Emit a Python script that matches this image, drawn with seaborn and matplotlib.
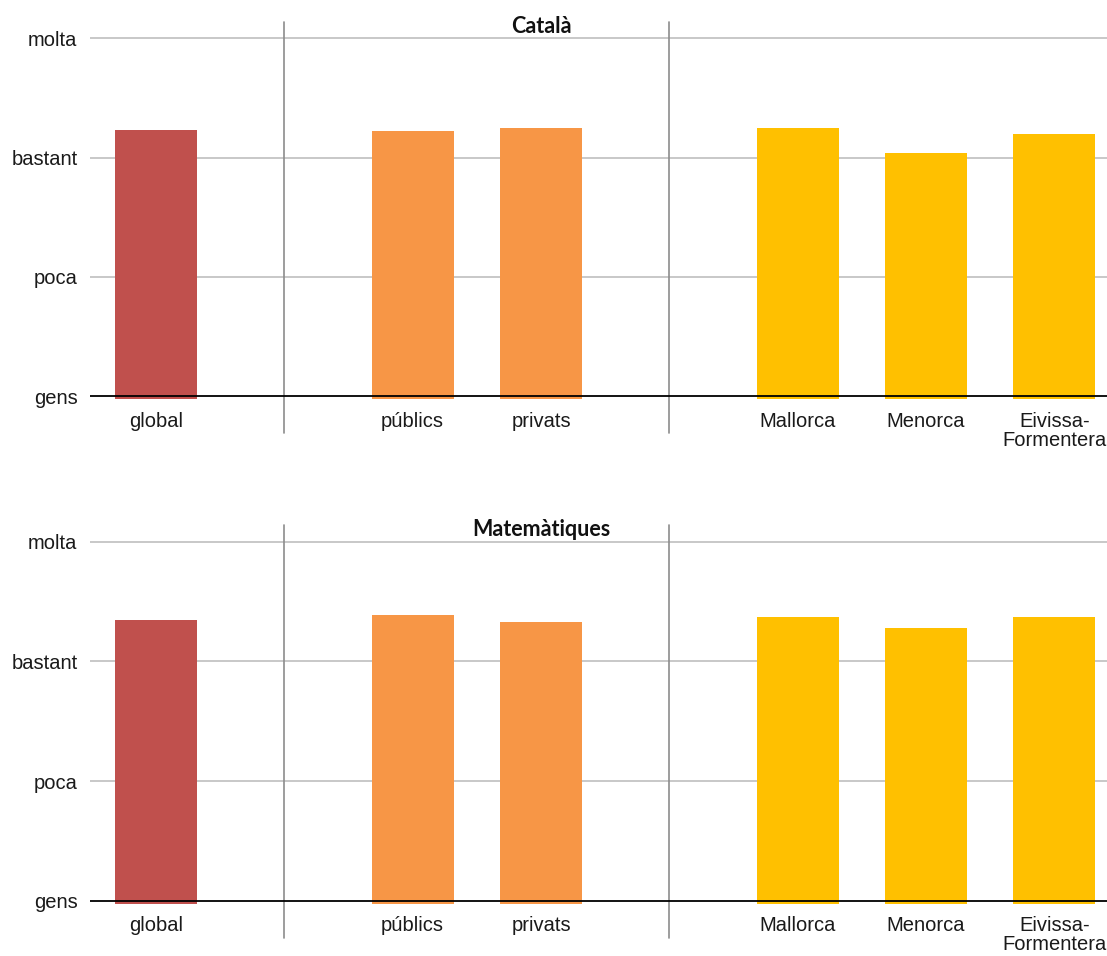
import pandas as pd
import matplotlib.pyplot as plt
import seaborn as sns

sns.set_theme(style='white')
plt.rcParams['font.family'] = ['Liberation Sans', 'DejaVu Sans']

# categories; blank slots keep the gaps between the groups
ORDER = ['global', ' ', 'públics', 'privats', '  ', 'Mallorca', 'Menorca', 'Eivissa-\nFormentera']
CATEGORIES = ['global', 'públics', 'privats', 'Mallorca', 'Menorca', 'Eivissa-\nFormentera']
GROUPS = ['global', 'titularitat', 'titularitat', 'illa', 'illa', 'illa']

# gens=1, poca=2, bastant=3, molta=4
CATALA = [3.23, 3.22, 3.245, 3.245, 3.035, 3.20]
MATEMATIQUES = [3.35, 3.385, 3.33, 3.37, 3.28, 3.37]

LEVELS = [1, 2, 3, 4]
LEVEL_LABELS = ['gens', 'poca', 'bastant', 'molta']

PALETTE = {'global': '#C0504D', 'titularitat': '#F79646', 'illa': '#FFC000'}


def draw_panel(ax, values, title):
    df = pd.DataFrame({'cat': CATEGORIES, 'grup': GROUPS, 'valor': values})
    sns.barplot(data=df, x='cat', y='valor', hue='grup', order=ORDER,
                palette=PALETTE, dodge=False, width=0.64, legend=False,
                saturation=1, ax=ax, zorder=2, linewidth=0)
    ax.set_xlim(-0.514, 7.41)
    ax.set_ylim(0.975, 4.14)
    ax.set_yticks(LEVELS)
    ax.set_yticklabels(LEVEL_LABELS)
    ax.set_xlabel('')
    ax.set_ylabel('')
    for y in LEVELS[1:]:
        ax.axhline(y, color='#BFBFBF', lw=1.2, zorder=1)
    ax.axhline(1, color='black', lw=1.3, zorder=3)
    # separators between groups, running beyond the plot area
    for x in (1, 4):
        ax.plot([x, x], [-0.09, 1.0], color='#8C8C8C', lw=1.2,
                transform=ax.get_xaxis_transform(), clip_on=False)
    ax.tick_params(axis='both', length=0, labelsize=14.5, colors='#1A1A1A')
    ax.tick_params(axis='x', pad=9)
    ax.tick_params(axis='y', pad=9)
    for lbl in ax.get_xticklabels():
        lbl.set_linespacing(1.0)
        lbl.set_verticalalignment('top')
    sns.despine(ax=ax, left=True, bottom=True)
    ax.text(3, 4.015, title, ha='center', va='bottom', fontsize=15.5,
            fontweight='bold', family=['Lato', 'DejaVu Sans'], color='#111111')


fig = plt.figure(figsize=(11.07, 9.56), dpi=100)
ax1 = fig.add_axes([0.0813, 0.5826, 0.9187, 0.3947])
ax2 = fig.add_axes([0.0813, 0.0547, 0.9187, 0.3961])

draw_panel(ax1, CATALA, 'Català')
draw_panel(ax2, MATEMATIQUES, 'Matemàtiques')

fig.savefig('out.png', dpi=100)
